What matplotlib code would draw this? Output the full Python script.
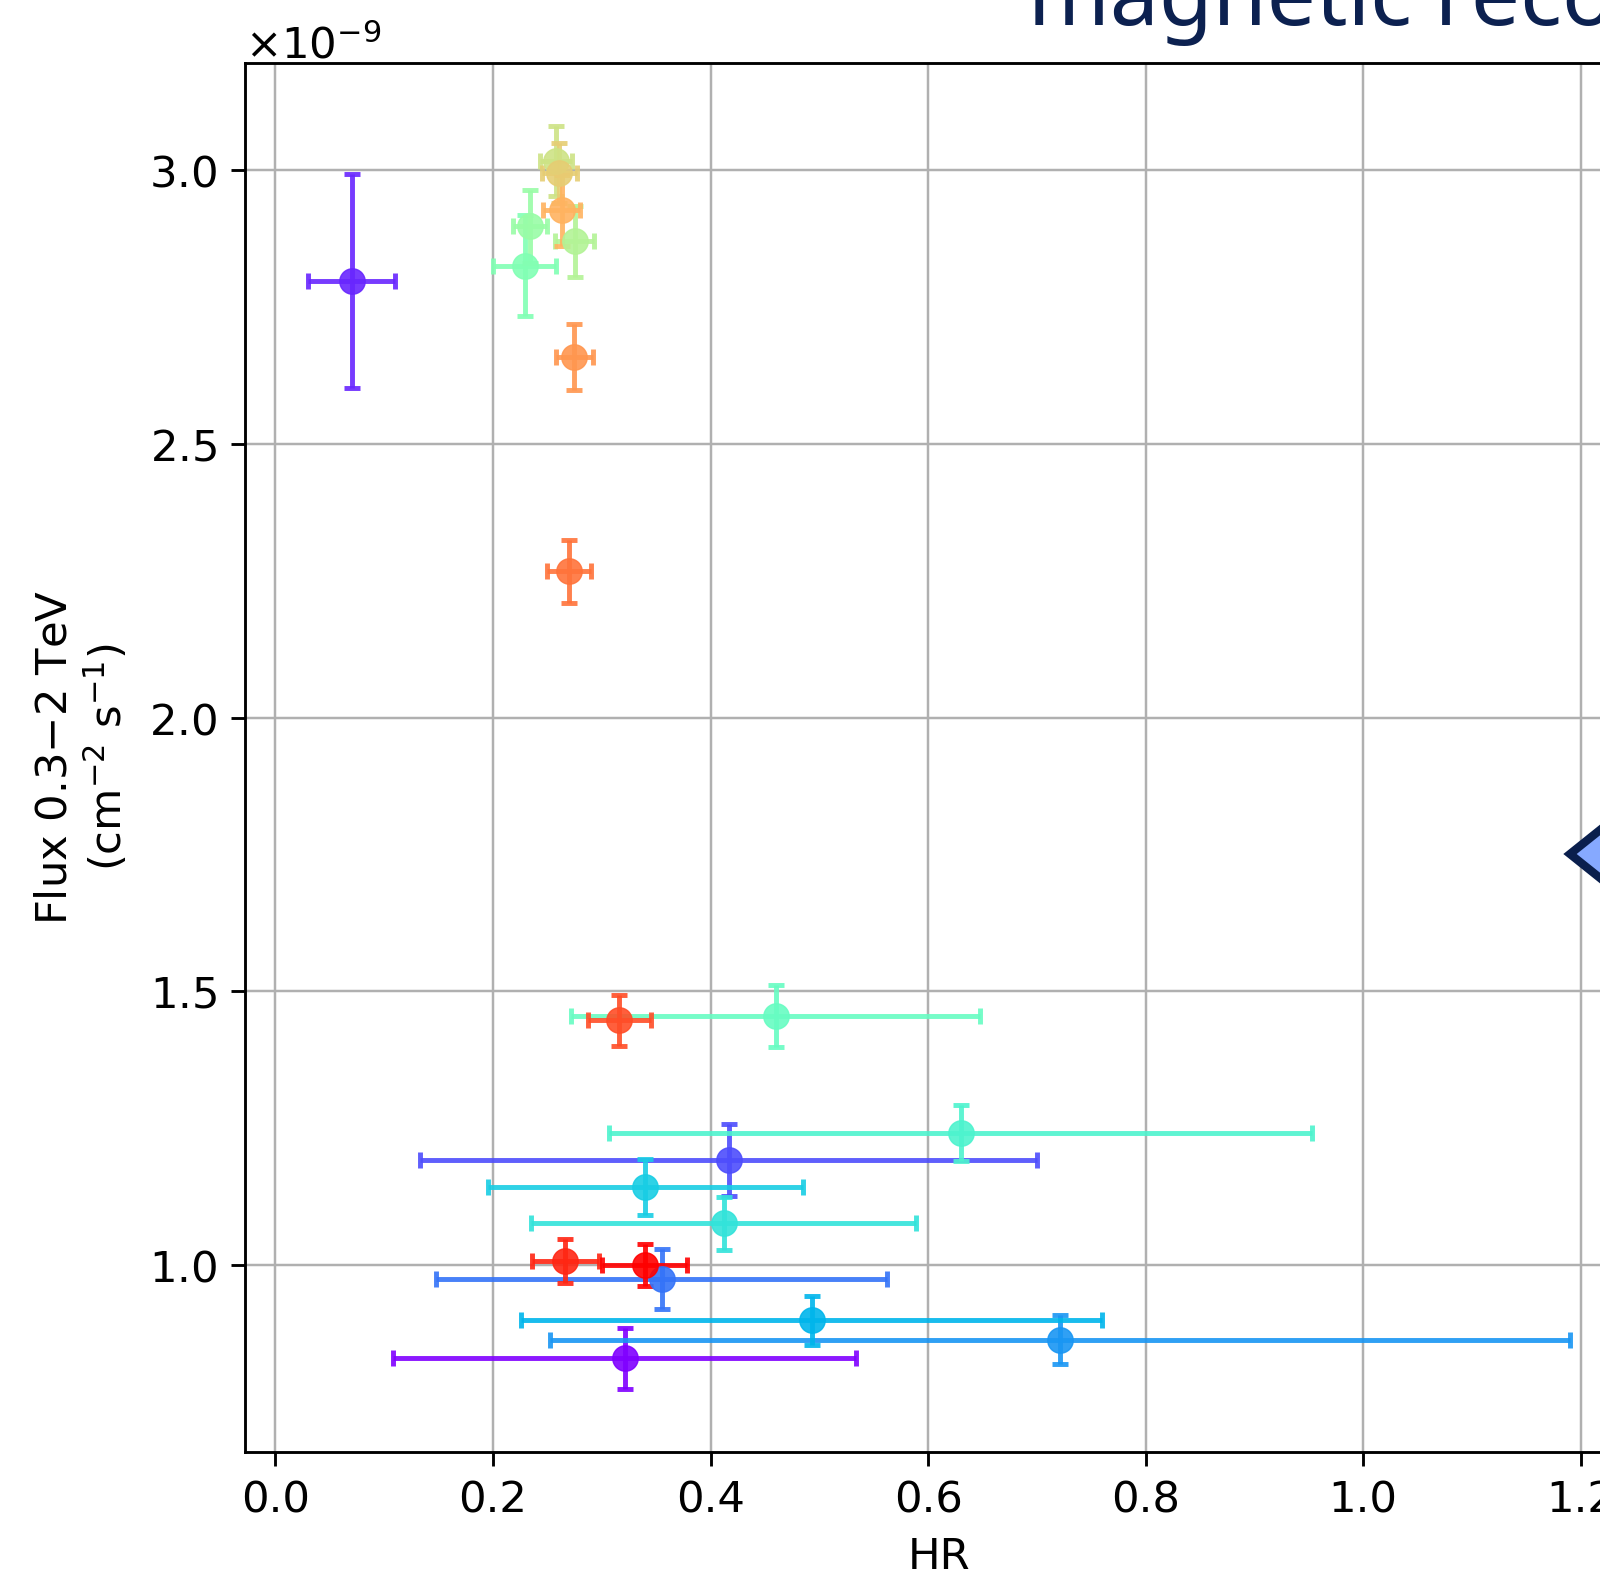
import matplotlib
matplotlib.use("Agg")
import matplotlib.pyplot as plt
from matplotlib.patches import Polygon
from matplotlib.ticker import ScalarFormatter
import numpy as np

# ---- data (flux in units of 1e-9 cm^-2 s^-1) ----
hr       = [0.321, 0.070, 0.4165, 0.355, 0.721, 0.493, 0.340, 0.412, 0.630, 0.460,
            0.229, 0.234, 0.275, 0.258, 0.261, 0.263, 0.2745, 0.270, 0.316, 0.2664, 0.3396]
hr_err   = [0.213, 0.040, 0.284, 0.207, 0.469, 0.267, 0.145, 0.177, 0.323, 0.188,
            0.029, 0.016, 0.018, 0.015, 0.016, 0.017, 0.017, 0.020, 0.029, 0.031, 0.039]
flux     = [0.830, 2.797, 1.192, 0.974, 0.864, 0.899, 1.142, 1.076, 1.242, 1.455,
            2.825, 2.897, 2.870, 3.016, 2.995, 2.926, 2.659, 2.267, 1.447, 1.0075, 1.000]
flux_err = [0.056, 0.196, 0.065, 0.055, 0.044, 0.045, 0.051, 0.049, 0.051, 0.056,
            0.092, 0.067, 0.065, 0.064, 0.055, 0.065, 0.060, 0.057, 0.047, 0.040, 0.039]
time_order = list(range(len(hr)))   # colour index along the rainbow map

S = 2.95  # scale factor from original points

fig = plt.figure(figsize=(16, 15.7), dpi=100)
ax = fig.add_axes([245/1600, 1 - 1452/1570, 1388/1600, (1452 - 63)/1570])

cmap = plt.get_cmap("rainbow")
n = len(hr)
for i in range(n):
    c = cmap(time_order[i] / (n - 1))
    ax.errorbar(hr[i], flux[i] * 1e-9, xerr=hr_err[i], yerr=flux_err[i] * 1e-9,
                fmt="o", color=c, markersize=6.2 * S, elinewidth=1.2 * S,
                capsize=1.85 * S, capthick=1.2 * S, alpha=0.9)

ax.grid(True, color="#b0b0b0", linewidth=0.6 * S)
fmt = ScalarFormatter(useMathText=True)
ax.yaxis.set_major_formatter(fmt)
ax.set_xticks([0.0, 0.2, 0.4, 0.6, 0.8, 1.0, 1.2])
ax.set_yticks(np.array([1.0, 1.5, 2.0, 2.5, 3.0]) * 1e-9)

fs = 10.6 * S
ax.tick_params(labelsize=fs, length=3.5 * S, width=0.7 * S, pad=3.2 * S)
ax.yaxis.get_offset_text().set_fontsize(fs)
for sp in ax.spines.values():
    sp.set_linewidth(0.7 * S)

ax.set_xlabel("HR", fontsize=fs, labelpad=3.5 * S)
ax.set_ylabel("Flux 0.3$-$2 TeV\n(cm$^{-2}$ s$^{-1}$)", fontsize=fs, labelpad=4.5 * S)

# slide decorations (cropped title text and diamond shape)
fig.text(1028/1600, 1 - 25/1570, "magnetic reconnection", fontsize=63,
         family=["Noto Sans", "DejaVu Sans"], color="#0c2150", ha="left", va="baseline")

x0, y0, L = 1570, 854, 110
verts = [(x0, y0), (x0 + L, y0 - 0.8 * L), (x0 + 2 * L, y0), (x0 + L, y0 + 0.8 * L)]
verts = [(vx / 1600, 1 - vy / 1570) for vx, vy in verts]
fig.add_artist(Polygon(verts, closed=True, transform=fig.transFigure,
                       facecolor="#86a9ff", edgecolor="#0a1f4d", linewidth=6, zorder=10))

fig.savefig("out.png", dpi=100)
